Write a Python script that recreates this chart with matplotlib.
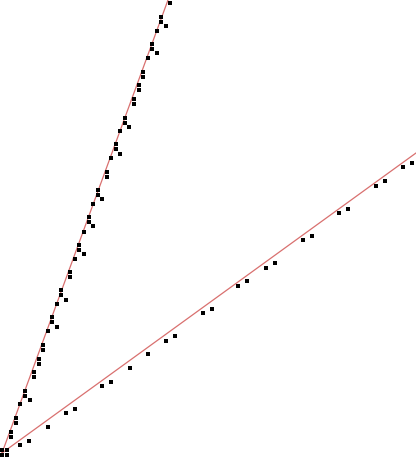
import matplotlib
matplotlib.use("Agg")
import matplotlib.pyplot as plt

# Shared points near origin
origin_x = [2, 7, 2, 7]
origin_y = [2.5, 2.5, 7, 7]

# Steep series
steep_x = [11, 11, 16, 16, 20, 30, 25, 25, 34, 34, 39, 39, 43, 43, 48, 57, 52, 52,
           57, 66, 61, 61, 70, 70, 75, 84, 79, 79, 84, 93, 89, 89, 93, 102, 98, 98,
           107, 107, 111, 120, 116, 116, 120, 129, 125, 125, 134, 134, 139, 139,
           143, 143, 148, 157, 152, 152, 157, 166, 161, 161, 170]
steep_py = [436.5, 432, 422.5, 418, 404, 400, 395.5, 391, 377, 372, 363.5, 359,
            349.5, 345, 331, 327, 322, 317, 304, 300, 295, 290, 277, 272, 259, 254,
            249.5, 245, 232, 226, 222, 217, 204, 199, 195, 190, 176.5, 172, 158,
            154, 149, 144, 131, 127, 122.5, 118, 104, 99, 90, 85, 76.5, 72, 58, 53,
            49, 44, 31, 26, 22, 17, 3]
steep_y = [457 - v for v in steep_py]

# Shallow series
shallow_x = [20, 29, 48, 66, 75, 102, 111, 130, 148, 166, 175, 203, 212, 238, 247,
             266, 275, 303, 312, 339, 348, 376, 385, 403, 412]
shallow_py = [445, 441, 427, 413, 409, 386, 382, 368, 354, 341, 336, 313, 309, 286,
              281, 268, 263, 240, 236, 213, 209, 186, 181, 167, 163]
shallow_y = [457 - v for v in shallow_py]

# Fit lines (endpoints)
steep_line_x = [2, 168]
steep_line_y = [4, 457]
shallow_line_x = [2, 416]
shallow_line_y = [4, 304]

fig = plt.figure(figsize=(4.16, 4.57), dpi=100)
ax = fig.add_axes([0, 0, 1, 1])
ax.set_xlim(0, 416)
ax.set_ylim(0, 457)
ax.axis("off")

line_color = "#d9706f"
ax.plot(steep_line_x, steep_line_y, color=line_color, lw=0.9, zorder=1)
ax.plot(shallow_line_x, shallow_line_y, color=line_color, lw=0.9, zorder=1)

mk = dict(marker="s", ms=2.8, color="black", ls="none", mew=0, zorder=2)
ax.plot(origin_x, origin_y, **mk)
ax.plot(steep_x, steep_y, **mk)
ax.plot(shallow_x, shallow_y, **mk)

fig.savefig("out.png", dpi=100)
